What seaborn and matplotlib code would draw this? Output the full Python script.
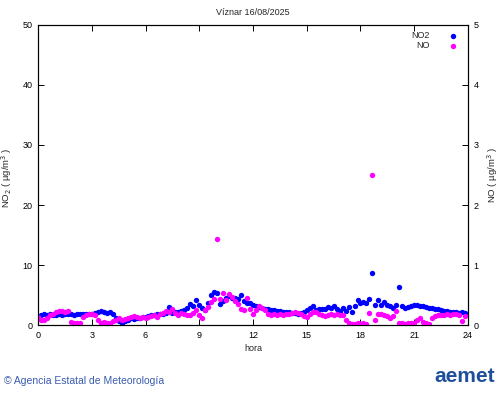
import numpy as np
import pandas as pd
import matplotlib
matplotlib.use("Agg")
import matplotlib.pyplot as plt
import seaborn as sns


TITLE = "Víznar 16/08/2025"

# one reading every 10 minutes, 144 per day
NO2 = [
    1.4, 1.6, 1.8, 1.7, 1.8, 1.7,
    1.6, 1.8, 1.7, 1.8, 1.9, 1.8,
    1.7, 1.8, 1.9, 1.9, 1.8, 1.9,
    1.8, 2.0, 2.1, 2.3, 2.2, 2.0,
    2.1, 1.9, 1.2, 0.6, 0.4, 0.7,
    0.9, 1.1, 1.0, 1.2, 1.1, 1.4,
    1.3, 1.5, 1.7, 1.6, 1.8, 1.9,
    1.8, 2.0, 3.0, 2.0, 2.1, 2.2,
    2.3, 2.5, 2.9, 3.5, 3.2, 4.2,
    3.3, 2.8, 2.5, 3.6, 5.0, 5.5,
    5.4, 3.5, 4.0, 4.5, 4.8, 4.5,
    4.5, 4.4, 5.0, 4.0, 3.7, 3.6,
    3.4, 3.2, 3.0, 2.8, 2.6, 2.6,
    2.5, 2.5, 2.4, 2.3, 2.2, 2.2,
    2.1, 2.0, 2.0, 1.9, 2.0, 2.1,
    2.5, 2.8, 3.1, 2.5, 2.6, 2.7,
    2.6, 3.0, 2.8, 3.1, 2.6, 2.4,
    2.8, 2.4, 3.0, 2.1, 3.2, 4.1,
    3.6, 3.8, 3.6, 4.4, 8.6, 3.4,
    4.2, 3.4, 3.9, 3.3, 3.1, 2.9,
    3.3, 6.4, 3.2, 2.9, 3.0, 3.2,
    3.3, 3.3, 3.2, 3.1, 3.0, 2.9,
    2.8, 2.7, 2.6, 2.5, 2.4, 2.3,
    2.2, 2.2, 2.1, 2.0, 2.1, 2.0,
]

# NO read against the right axis (0-5)
NO = [
    0.14, 0.09, 0.08, 0.12, 0.16, 0.19,
    0.21, 0.23, 0.24, 0.22, 0.23, 0.05,
    0.03, 0.04, 0.03, 0.13, 0.16, 0.18,
    0.19, 0.16, 0.09, 0.04, 0.05, 0.03,
    0.04, 0.06, 0.09, 0.11, 0.09, 0.10,
    0.12, 0.13, 0.15, 0.14, 0.12, 0.14,
    0.11, 0.13, 0.15, 0.16, 0.14, 0.18,
    0.20, 0.24, 0.22, 0.26, 0.20, 0.17,
    0.20, 0.19, 0.16, 0.16, 0.20, 0.25,
    0.16, 0.11, 0.25, 0.30, 0.38, 0.43,
    1.43, 0.43, 0.53, 0.42, 0.51, 0.47,
    0.40, 0.35, 0.26, 0.25, 0.45, 0.26,
    0.18, 0.25, 0.32, 0.29, 0.25, 0.19,
    0.16, 0.18, 0.17, 0.19, 0.16, 0.18,
    0.19, 0.20, 0.22, 0.20, 0.18, 0.15,
    0.14, 0.19, 0.22, 0.21, 0.18, 0.16,
    0.15, 0.17, 0.18, 0.16, 0.19, 0.17,
    0.16, 0.08, 0.03, 0.02, 0.02, 0.03,
    0.02, 0.03, 0.02, 0.20, 2.50, 0.08,
    0.18, 0.18, 0.17, 0.15, 0.12, 0.15,
    0.24, 0.04, 0.03, 0.02, 0.03, 0.03,
    0.03, 0.09, 0.11, 0.05, 0.03, 0.02,
    0.12, 0.15, 0.16, 0.17, 0.16, 0.18,
    0.17, 0.18, 0.19, 0.17, 0.06, 0.15,
]

HOURS = np.arange(len(NO2)) / 6

X_TICKS = [0, 3, 6, 9, 12, 15, 18, 21, 24]

df = pd.DataFrame({"hora": HOURS, "NO2": NO2, "NO": NO})

sns.set_style("ticks")
plt.rcParams["font.family"] = ["Liberation Sans", "DejaVu Sans"]
plt.rcParams["font.size"] = 6.5

fig = plt.figure(figsize=(5.0, 3.95), dpi=100)
ax = fig.add_axes([0.076, 0.177, 0.86, 0.76])
ax2 = ax.twinx()

sns.scatterplot(data=df, x="hora", y="NO2", ax=ax, color="#0000ff",
                s=15, linewidth=0, label="NO2", legend=False)
sns.scatterplot(data=df, x="hora", y="NO", ax=ax2, color="#ff00ff",
                s=15, linewidth=0, label="NO", legend=False)

ax.set_xlim(0, 24)
ax.set_ylim(0, 50)
ax2.set_ylim(0, 5)
ax.set_xticks(X_TICKS)
ax.set_yticks(range(0, 51, 10))
ax2.set_yticks(range(0, 6))

for a in (ax, ax2):
    a.tick_params(direction="in", length=4, width=0.7, labelsize=6.5,
                  colors="black", top=True, pad=4)
    for sp in a.spines.values():
        sp.set_linewidth(0.8)
        sp.set_color("black")

ax.set_xlabel("hora", fontsize=6.5, labelpad=3)
ax.set_ylabel("NO$_2$ ( µg/m$^3$ )", fontsize=6.8)
ax2.set_ylabel("NO ( µg/m$^3$ )", fontsize=6.8)
ax.yaxis.set_label_coords(-0.056, 0.49)
ax2.yaxis.set_label_coords(1.040, 0.5)
ax.set_title(TITLE, fontsize=6.5, pad=7)

h1, l1 = ax.get_legend_handles_labels()
h2, l2 = ax2.get_legend_handles_labels()
ax2.legend(h1 + h2, l1 + l2, loc="upper right", markerfirst=False,
           frameon=False, fontsize=6.5, handletextpad=1.6,
           borderaxespad=0.3, labelspacing=0.1, borderpad=0.4)

fig.text(0.008, 0.022, "© Agencia Estatal de Meteorología",
         color="#3a5bb0", fontsize=7.5, ha="left", va="bottom")
fig.text(0.99, 0.022, "aemet", color="#1f4f9a", fontsize=15,
         fontweight="bold", ha="right", va="bottom")

fig.savefig("out.png", dpi=100)
